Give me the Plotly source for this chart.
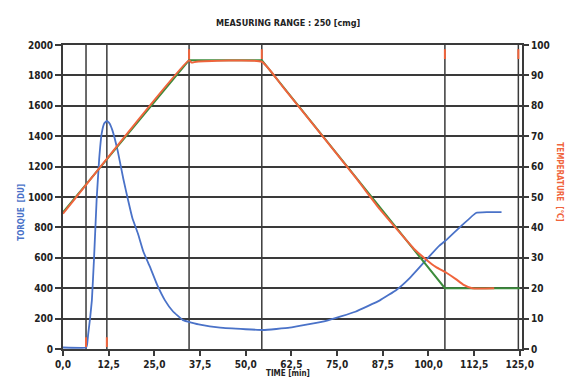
import plotly.graph_objects as go

# ---- data ----
torque_t = [0, 6.3, 6.6, 6.9, 7.4, 7.9, 8.5, 9.2, 9.9, 10.6, 11.3, 12.0, 12.7, 13.5, 15.0, 16.5,
            17.8, 19.0, 20.5, 22.0, 23.8, 25.8, 27.9, 30.0, 32.8, 37.5, 43, 50, 54.8, 62, 72, 80,
            86.7, 91.3, 95, 99.5, 103, 105, 109, 113, 116, 120]
torque = [10, 10, 30, 100, 200, 320, 600, 980, 1250, 1420, 1485, 1500, 1485, 1440, 1300, 1120,
          980, 860, 760, 640, 540, 420, 320, 250, 190, 160, 140, 130, 125, 140, 185, 245,
          320, 390, 470, 590, 680, 720, 810, 895, 900, 900]

prog_t = [0, 34.5, 54.4, 104.5, 125]
prog_temp = [45, 95, 95, 20, 20]

meas_t = [0, 34.5, 35.2, 36.5, 54.4, 60, 80, 86.7, 92, 96, 99.5, 102, 105, 107.5, 109.5, 112, 118]
meas_temp = [44.5, 95, 94.2, 94.5, 94.5, 86.5, 56.5, 46, 38.5, 33, 29.3, 27, 25, 23, 21.2, 20, 20]

events = [6.3, 12.0, 34.5, 54.4, 104.5, 124.6]
event_marks_low = [6.3, 12.0]
event_marks_high = [34.5, 54.4, 104.5, 124.6]

x_ticks = [0, 12.5, 25, 37.5, 50, 62.5, 75, 87.5, 100, 112.5, 125]
x_labels = ["0,0", "12,5", "25,0", "37,5", "50,0", "62,5", "75,0", "87,5", "100,0", "112,5", "125,0"]
torque_ticks = list(range(0, 2001, 200))
temp_ticks = list(range(0, 101, 10))

FONT = "Liberation Sans Narrow, Arial Narrow, DejaVu Sans Condensed, sans-serif"
BLUE = "#4a72c8"
GREEN = "#3c8c3c"
RED = "#f0643c"
GRID = "#3a3a3a"

fig = go.Figure()

fig.add_trace(go.Scatter(x=prog_t, y=prog_temp, yaxis="y2", mode="lines",
                         line=dict(color=GREEN, width=2), showlegend=False))
fig.add_trace(go.Scatter(x=meas_t, y=meas_temp, yaxis="y2", mode="lines",
                         line=dict(color=RED, width=2, shape="spline", smoothing=0.4), showlegend=False))
fig.add_trace(go.Scatter(x=torque_t, y=torque, mode="lines",
                         line=dict(color=BLUE, width=1.8, shape="spline", smoothing=0.3), showlegend=False))

# event markers
fig.add_trace(go.Scatter(x=event_marks_low, y=[45] * len(event_marks_low), mode="markers",
                         marker=dict(symbol="line-ns", size=7, line=dict(color=RED, width=2)),
                         showlegend=False))
fig.add_trace(go.Scatter(x=event_marks_high, y=[97] * len(event_marks_high), yaxis="y2", mode="markers",
                         marker=dict(symbol="line-ns", size=7, line=dict(color=RED, width=2)),
                         showlegend=False))

shapes = []
for e in events:
    shapes.append(dict(type="line", xref="x", yref="paper", x0=e, x1=e, y0=0, y1=1,
                       line=dict(color=GRID, width=1.5), layer="below"))

fig.update_layout(
    width=576, height=385,
    margin=dict(l=63, r=54, t=45, b=36),
    paper_bgcolor="white", plot_bgcolor="white",
    font=dict(family=FONT, size=10, color="#222"),
    shapes=shapes,
    xaxis=dict(range=[0, 125.6], tickvals=x_ticks, ticktext=x_labels, showgrid=False,
               ticks="outside", ticklen=5, tickcolor=GRID, tickwidth=1.5,
               showline=True, linecolor=GRID, linewidth=2, mirror=True, zeroline=False,
               tickfont=dict(family=FONT, size=10, color="#222", weight="bold")),
    yaxis=dict(range=[0, 2000], tickvals=torque_ticks, showgrid=True, gridcolor=GRID, gridwidth=2,
               ticks="outside", ticklen=6, tickcolor=GRID, tickwidth=2,
               showline=True, linecolor=GRID, linewidth=2, mirror=True, zeroline=False,
               tickfont=dict(family=FONT, size=10, color="#222", weight="bold")),
    yaxis2=dict(range=[0, 100], tickvals=temp_ticks, overlaying="y", side="right", showgrid=False,
                ticks="outside", ticklen=6, tickcolor=GRID, tickwidth=2, zeroline=False,
                tickfont=dict(family=FONT, size=10, color="#222", weight="bold")),
    annotations=[
        dict(text="MEASURING RANGE : 250 [cmg]", x=0.49, y=1.0, xref="paper", yref="paper",
             yshift=29, showarrow=False, font=dict(family=FONT, size=9, color="#222", weight="bold")),
        dict(text="TIME [min]", x=0.49, y=0, xref="paper", yref="paper", yshift=-31,
             showarrow=False, font=dict(family=FONT, size=8, color="#222", weight="bold")),
        dict(text="TORQUE  [DU]", x=0, y=0.45, xref="paper", yref="paper", xshift=-48,
             textangle=-90, showarrow=False, font=dict(family=FONT, size=8, color=BLUE, weight="bold")),
        dict(text="TEMPERATURE  [°C]", x=1, y=0.55, xref="paper", yref="paper", xshift=44,
             textangle=90, showarrow=False, font=dict(family=FONT, size=8, color=RED, weight="bold")),
    ],
)

fig.write_html("out.html", config={"displayModeBar": False},
               post_script="document.body.style.margin='0';")
